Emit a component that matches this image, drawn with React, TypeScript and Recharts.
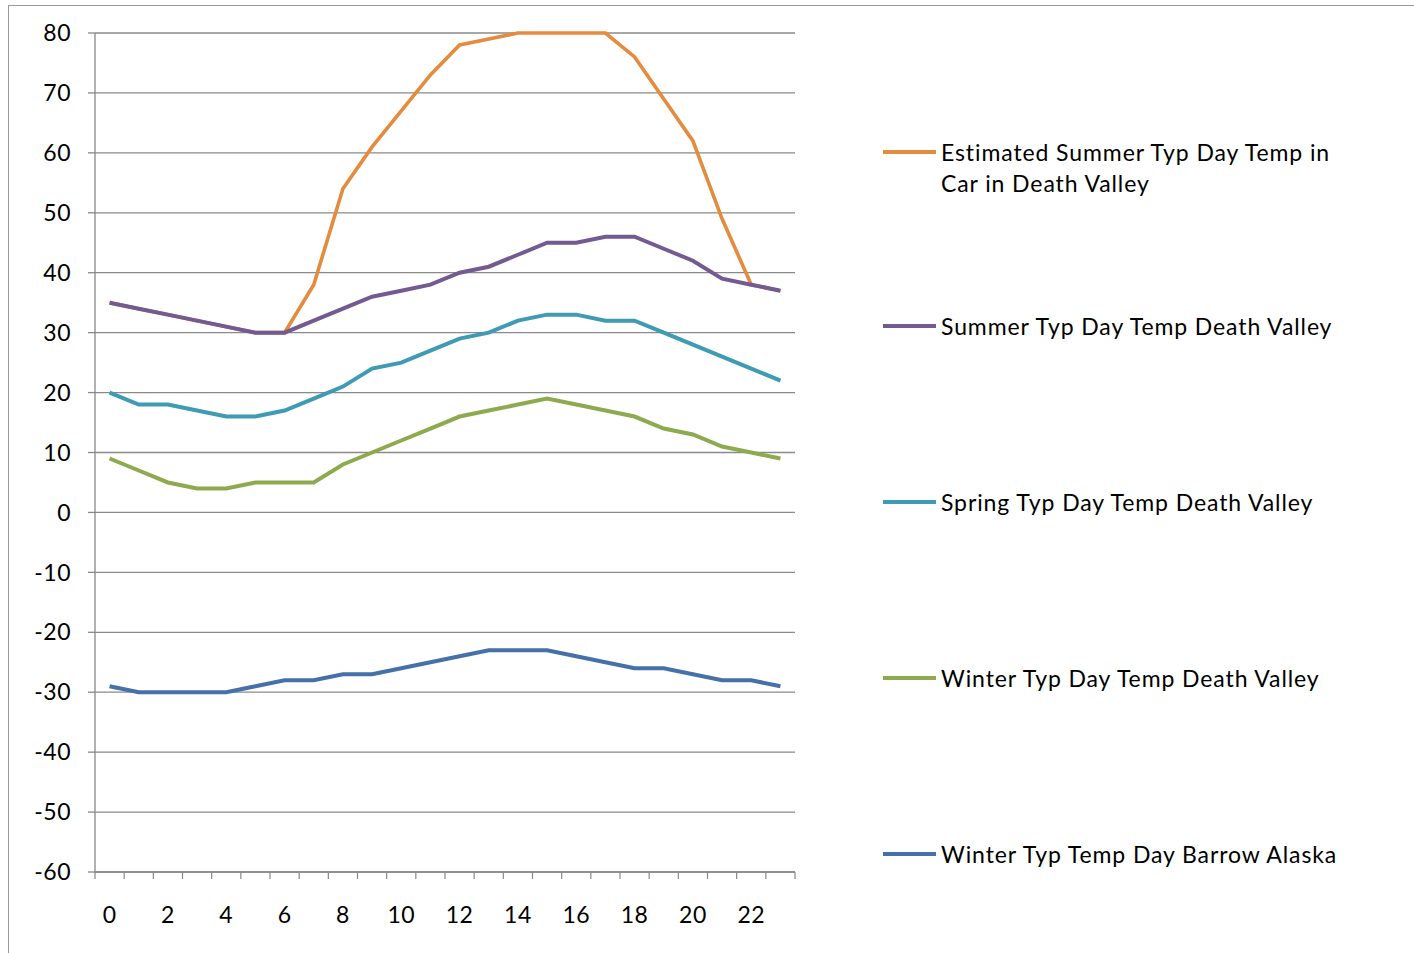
import React from 'react';
import { LineChart, Line, XAxis, YAxis, CartesianGrid } from 'recharts';

const hours = [0, 1, 2, 3, 4, 5, 6, 7, 8, 9, 10, 11, 12, 13, 14, 15, 16, 17, 18, 19, 20, 21, 22, 23];
const carSummer = [35, 34, 33, 32, 31, 30, 30, 38, 54, 61, 67, 73, 78, 79, 80, 80, 80, 80, 76, 69, 62, 49, 38, 37];
const summer = [35, 34, 33, 32, 31, 30, 30, 32, 34, 36, 37, 38, 40, 41, 43, 45, 45, 46, 46, 44, 42, 39, 38, 37];
const spring = [20, 18, 18, 17, 16, 16, 17, 19, 21, 24, 25, 27, 29, 30, 32, 33, 33, 32, 32, 30, 28, 26, 24, 22];
const winter = [9, 7, 5, 4, 4, 5, 5, 5, 8, 10, 12, 14, 16, 17, 18, 19, 18, 17, 16, 14, 13, 11, 10, 9];
const barrow = [-29, -30, -30, -30, -30, -29, -28, -28, -27, -27, -26, -25, -24, -23, -23, -23, -24, -25, -26, -26, -27, -28, -28, -29];
const yTicks = [-60, -50, -40, -30, -20, -10, 0, 10, 20, 30, 40, 50, 60, 70, 80];
const xLabelTicks = [0, 2, 4, 6, 8, 10, 12, 14, 16, 18, 20, 22];
const xBoundaryTicks = [-0.5, 0.5, 1.5, 2.5, 3.5, 4.5, 5.5, 6.5, 7.5, 8.5, 9.5, 10.5, 11.5, 12.5, 13.5, 14.5, 15.5, 16.5, 17.5, 18.5, 19.5, 20.5, 21.5, 22.5, 23.5];

const seriesKeys = ['car', 'summer', 'spring', 'winter', 'barrow'];
const seriesNames = [
  'Estimated Summer Typ Day Temp in Car in Death Valley',
  'Summer Typ Day Temp Death Valley',
  'Spring Typ Day Temp Death Valley',
  'Winter Typ Day Temp Death Valley',
  'Winter Typ Temp Day Barrow Alaska',
];
const seriesColors = ['#E58B3E', '#735A91', '#3F9BB3', '#8DAA4E', '#4670A9'];
const seriesWidths = [3.6, 4, 4, 4, 4];

const data = hours.map((h, i) => ({
  hour: h,
  car: carSummer[i],
  summer: summer[i],
  spring: spring[i],
  winter: winter[i],
  barrow: barrow[i],
}));

const allTicks = [...xBoundaryTicks, ...xLabelTicks].sort((a, b) => a - b);

const FONT = 'Lato, "Open Sans", sans-serif';

const XTick = (props: any) => {
  const { x, y, payload } = props;
  const v = payload.value;
  if (Math.abs(v - Math.round(v)) > 0.1) {
    return <line x1={x} x2={x} y1={y - 8} y2={y - 1} stroke="#888" strokeWidth={1.2} />;
  }
  if (v % 2 === 0) {
    return (
      <text x={x} y={y + 43} textAnchor="middle" fontFamily={FONT} fontSize={23} letterSpacing={0.5} fill="#000">
        {v}
      </text>
    );
  }
  return null;
};

const legendY = [152, 326, 502, 678, 854];

export default function App() {
  return (
    <div style={{ position: 'absolute', left: 0, top: 0, width: 1414, height: 953, overflow: 'hidden', background: '#fff' }}>
      <div
        style={{
          position: 'absolute',
          left: 8,
          top: 5,
          width: 1440,
          height: 980,
          border: '1.5px solid #999',
          boxSizing: 'border-box',
        }}
      />
      <div style={{ position: 'absolute', left: 0, top: 0 }}>
        <LineChart width={1414} height={953} data={data} margin={{ top: 33, right: 619, bottom: 41, left: 35 }}>
          <CartesianGrid vertical={false} stroke="#8a8a8a" strokeWidth={1.3} />
          <XAxis
            dataKey="hour"
            type="number"
            domain={[-0.5, 23.5]}
            ticks={allTicks}
            interval={0}
            tick={<XTick />}
            tickLine={false}
            axisLine={{ stroke: '#888', strokeWidth: 1.3 }}
            height={40}
          />
          <YAxis
            type="number"
            domain={[-60, 80]}
            ticks={yTicks}
            interval={0}
            width={60}
            tickSize={7}
            tickMargin={17}
            tickLine={{ stroke: '#888', strokeWidth: 1.3 }}
            axisLine={{ stroke: '#888', strokeWidth: 1.3 }}
            tick={{ fontFamily: FONT, fontSize: 23, fill: '#000', letterSpacing: 0.5 }}
          />
          {seriesKeys.map((k, i) => (
            <Line
              key={k}
              dataKey={k}
              name={seriesNames[i]}
              stroke={seriesColors[i]}
              strokeWidth={seriesWidths[i]}
              dot={false}
              isAnimationActive={false}
            />
          ))}
        </LineChart>
      </div>
      {seriesNames.map((name, i) => (
        <div key={name} style={{ position: 'absolute', left: 883, top: legendY[i] - 15 }}>
          <div
            style={{
              position: 'absolute',
              left: 0,
              top: 13,
              width: 53,
              height: 4,
              background: seriesColors[i],
            }}
          />
          <div
            style={{
              position: 'absolute',
              left: 58,
              top: 0,
              width: 460,
              fontFamily: FONT,
              fontSize: 23,
              letterSpacing: 0.9,
              lineHeight: '31px',
              color: '#000',
              whiteSpace: 'nowrap',
            }}
          >
            {i === 0 ? (
              <>
                Estimated Summer Typ Day Temp in
                <br />
                Car in Death Valley
              </>
            ) : (
              name
            )}
          </div>
        </div>
      ))}
    </div>
  );
}
